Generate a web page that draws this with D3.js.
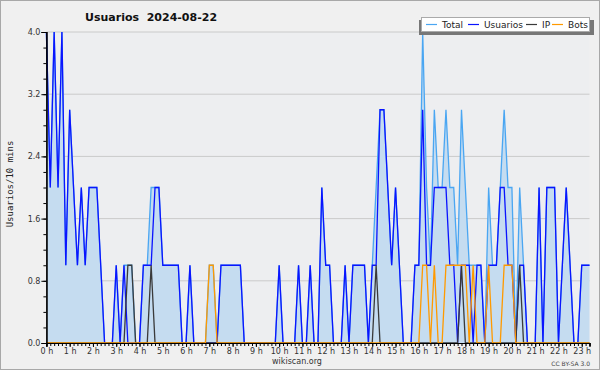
<!DOCTYPE html>
<html lang="es">
<head>
<meta charset="utf-8">
<title>Usuarios 2024-08-22</title>
<script src="https://d3js.org/d3.v7.min.js"></script>
<style>
  body { margin: 0; background: #f0f0f0; }
  svg { display: block; }
  .axis text { font-family: "DejaVu Sans", sans-serif; font-size: 8px; fill: #333; }
  .axis path, .axis line { stroke: #000; }
</style>
</head>
<body>
<div id="chart"></div>
<script>
// one value every 10 minutes, starting 00:00
var total = [4,2,4,2,4,1,3,2,1,2,1,2,2,2,1,0,0,0,1,0,
             1,1,1,0,0,1,1,2,2,2,1,1,1,1,1,0,0,1,0,0,
             0,0,1,1,0,1,1,1,1,1,1,0,0,0,0,0,0,0,0,0,
             1,0,0,0,0,1,0,0,1,0,0,2,1,1,0,0,0,1,0,1,
             1,1,1,0,1,2,3,3,2,1,2,1,0,0,0,1,1,4,2,1,
             3,2,2,3,2,2,1,3,2,1,1,1,1,0,2,1,1,2,3,2,
             2,0,2,1,0,0,0,2,0,2,2,2,0,1,2,1,0,0,1,1,1];
var usuarios = [4,2,4,2,4,1,3,2,1,2,1,2,2,2,1,0,0,0,1,0,
             1,0,0,0,0,1,1,1,2,2,1,1,1,1,1,0,0,1,0,0,
             0,0,0,0,0,1,1,1,1,1,1,0,0,0,0,0,0,0,0,0,
             1,0,0,0,0,1,0,0,1,0,0,2,1,1,0,0,0,1,0,1,
             1,1,1,0,1,1,3,3,2,1,2,1,0,0,0,1,1,3,1,1,
             2,2,2,2,1,1,0,1,1,1,0,1,1,0,1,1,1,2,2,1,
             1,0,1,1,0,0,0,2,0,2,2,2,0,1,2,1,0,0,1,1,1];
var ip = [0,0,0,0,0,0,0,0,0,0,0,0,0,0,0,0,0,0,0,0,
          0,1,1,0,0,0,0,1,0,0,0,0,0,0,0,0,0,0,0,0,
          0,0,0,0,0,0,0,0,0,0,0,0,0,0,0,0,0,0,0,0,
          0,0,0,0,0,0,0,0,0,0,0,0,0,0,0,0,0,0,0,0,
          0,0,0,0,0,1,0,0,0,0,0,0,0,0,0,0,0,0,0,0,
          0,0,0,0,0,0,0,1,0,0,0,0,0,0,0,0,0,0,0,0,
          0,0,1,0,0,0,0,0,0,0,0,0,0,0,0,0,0,0,0,0,0];
var bots = [0,0,0,0,0,0,0,0,0,0,0,0,0,0,0,0,0,0,0,0,
            0,0,0,0,0,0,0,0,0,0,0,0,0,0,0,0,0,0,0,0,
            0,0,1,1,0,0,0,0,0,0,0,0,0,0,0,0,0,0,0,0,
            0,0,0,0,0,0,0,0,0,0,0,0,0,0,0,0,0,0,0,0,
            0,0,0,0,0,0,0,0,0,0,0,0,0,0,0,0,0,1,1,0,
            1,0,0,1,1,1,1,1,1,0,1,0,0,0,1,0,0,0,1,1,
            1,0,0,0,0,0,0,0,0,0,0,0,0,0,0,0,0,0,0,0,0];
var hours = d3.range(0, 24);
var yTicks = [0, 0.8, 1.6, 2.4, 3.2, 4.0];

var w = 600, h = 370;
var plotLeft = 46.4, plotRight = 589.5, plotTop = 32, plotBottom = 343;

var svg = d3.select("#chart").append("svg")
    .attr("width", w)
    .attr("height", h);

svg.append("rect")
    .attr("x", 0.5).attr("y", 0.5)
    .attr("width", w - 1).attr("height", h - 1)
    .attr("fill", "#f0f0f0")
    .attr("stroke", "#a8a8a8");

var xScale = d3.scaleLinear().domain([0, total.length - 1]).range([plotLeft, plotRight]);
var yScale = d3.scaleLinear().domain([0, 4]).range([plotBottom, plotTop]);

svg.append("rect")
    .attr("x", plotLeft).attr("y", plotTop)
    .attr("width", plotRight - plotLeft).attr("height", plotBottom - plotTop)
    .attr("fill", "#edeef0");

// grid
svg.append("g")
    .selectAll("line")
    .data(yTicks.slice(1))
    .enter().append("line")
    .attr("x1", plotLeft).attr("x2", plotRight)
    .attr("y1", function(d) { return yScale(d); })
    .attr("y2", function(d) { return yScale(d); })
    .attr("stroke", "#cacaca")
    .attr("stroke-width", 1);

var area = d3.area()
    .x(function(d, i) { return xScale(i); })
    .y0(yScale(0))
    .y1(function(d) { return yScale(d); });

svg.append("path")
    .datum(total)
    .attr("fill", "#c5dcf0")
    .attr("d", area);

var line = d3.line()
    .x(function(d, i) { return xScale(i); })
    .y(function(d) { return yScale(d); });

var series = [
    {name: "Total", data: total, color: "#4aa6f2"},
    {name: "Usuarios", data: usuarios, color: "#0a14ff"},
    {name: "IP", data: ip, color: "#3a3a3a"},
    {name: "Bots", data: bots, color: "#ff9a00"}
];

series.forEach(function(s) {
    svg.append("path")
        .datum(s.data)
        .attr("fill", "none")
        .attr("stroke", s.color)
        .attr("stroke-width", 1.3)
        .attr("stroke-linejoin", "miter")
        .attr("d", line);
});

// axes
var yMinor = d3.axisLeft(yScale).tickValues(d3.range(0, 4.01, 0.2)).tickSize(3).tickFormat("");
svg.append("g").attr("class", "axis")
    .attr("transform", "translate(" + plotLeft + ",0)")
    .call(yMinor);

var yAxis = d3.axisLeft(yScale).tickValues(yTicks).tickSize(5).tickPadding(1)
    .tickFormat(d3.format(".1f"));
svg.append("g").attr("class", "axis")
    .attr("transform", "translate(" + plotLeft + ",0)")
    .call(yAxis);

var xMinor = d3.axisBottom(xScale).tickValues(d3.range(0, total.length)).tickSize(3).tickFormat("");
svg.append("g").attr("class", "axis")
    .attr("transform", "translate(0," + plotBottom + ")")
    .call(xMinor);

var xAxis = d3.axisBottom(xScale)
    .tickValues(hours.map(function(d) { return d * 6; }))
    .tickSize(4).tickPadding(1)
    .tickFormat(function(d) { return (d / 6) + " h"; });
svg.append("g").attr("class", "axis")
    .attr("transform", "translate(0," + plotBottom + ")")
    .call(xAxis);

svg.selectAll(".axis .domain").attr("stroke-width", 1.2);

// titles
svg.append("text")
    .attr("x", 85).attr("y", 21)
    .attr("font-family", "DejaVu Sans").attr("font-weight", "bold")
    .attr("font-size", "11px").attr("fill", "#111")
    .style("white-space", "pre")
    .text("Usuarios  2024-08-22");

svg.append("text")
    .attr("transform", "rotate(-90)")
    .attr("x", -184).attr("y", 13)
    .attr("text-anchor", "middle")
    .attr("font-family", "DejaVu Sans Mono").attr("font-size", "9px")
    .attr("fill", "#222")
    .text("Usuarios/10 mins");

svg.append("text")
    .attr("x", 297).attr("y", 364)
    .attr("text-anchor", "middle")
    .attr("font-family", "DejaVu Sans").attr("font-size", "8px")
    .attr("fill", "#333")
    .text("wikiscan.org");

svg.append("text")
    .attr("x", 590).attr("y", 366)
    .attr("text-anchor", "end")
    .attr("font-family", "DejaVu Sans").attr("font-size", "6px")
    .attr("fill", "#444")
    .text("CC BY-SA 3.0");

// legend
var legend = svg.append("g");
legend.append("rect")
    .attr("x", 419).attr("y", 20).attr("width", 175).attr("height", 15)
    .attr("fill", "#777");
legend.append("rect")
    .attr("x", 421.5).attr("y", 17.5).attr("width", 168).attr("height", 14)
    .attr("fill", "#fff").attr("stroke", "#aaa");

var legendX = [426, 468, 526, 552];
series.forEach(function(s, i) {
    legend.append("line")
        .attr("x1", legendX[i]).attr("x2", legendX[i] + 11)
        .attr("y1", 24.5).attr("y2", 24.5)
        .attr("stroke", s.color).attr("stroke-width", 1.2);
    legend.append("text")
        .attr("x", legendX[i] + 16).attr("y", 28)
        .attr("font-family", "DejaVu Sans").attr("font-size", "9px")
        .attr("fill", "#222")
        .text(s.name);
});
</script>
</body>
</html>
